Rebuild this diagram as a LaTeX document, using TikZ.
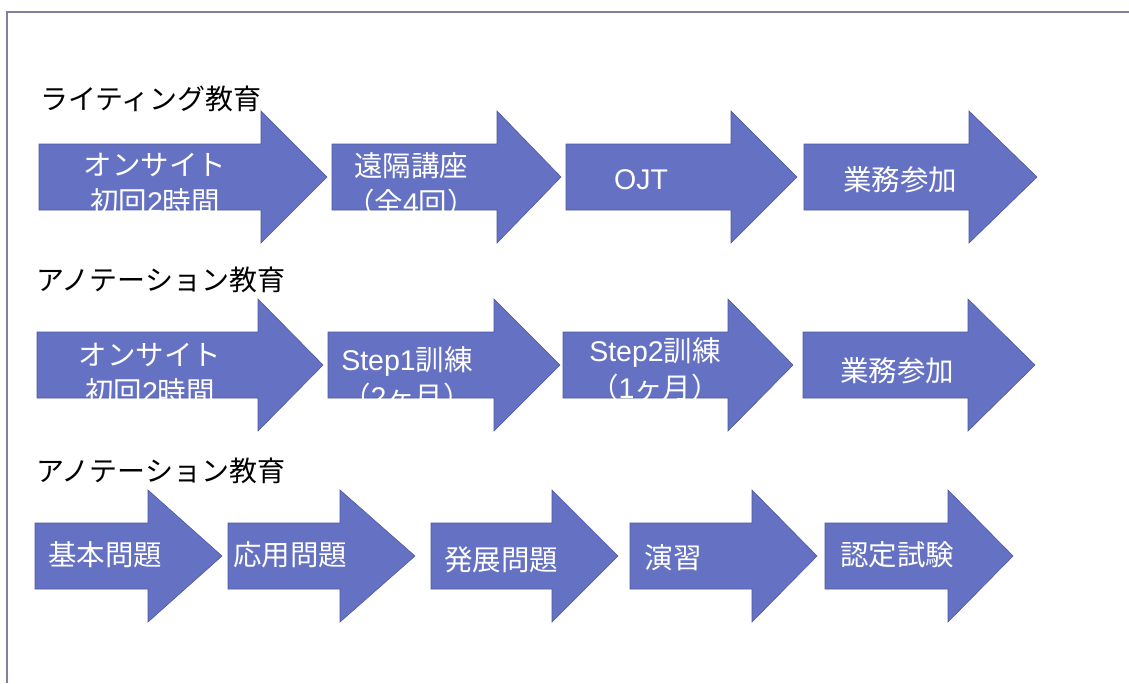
\documentclass[tikz,border=0pt]{standalone}
\usepackage{fontspec}
\setmainfont{Noto Sans CJK JP}
\newfontfamily\lat{Liberation Sans}
\definecolor{bleuFleche}{RGB}{101,113,194}
\definecolor{bordFleche}{RGB}{78,88,160}
\definecolor{grisCadre}{RGB}{128,128,160}
\tikzset{
  fleche/.style={fill=bleuFleche, draw=bordFleche, line width=0.6pt},
  texteFleche/.style={text=white, font=\fontsize{28.5}{37}\selectfont, align=center, inner sep=0pt},
  titre/.style={anchor=west, font=\fontsize{28}{32}\selectfont, inner sep=0pt}
}
% fleche : gauche, base de la pointe, pointe, milieu
\newcommand{\flechebloc}[4]{%
  \filldraw[fleche] (#1,#4-33) -- (#2,#4-33) -- (#2,#4-66) -- (#3,#4) -- (#2,#4+66) -- (#2,#4+33) -- (#1,#4+33) -- cycle;}

\begin{document}
\begin{tikzpicture}[x=1pt,y=-1pt]
\useasboundingbox (0,0) rectangle (1129,683);
  % Cadre
\draw[grisCadre, line width=1.2pt] (7,683) -- (7,12) -- (1129,12);
  % Titres
\node[titre] (titreEcriture) at (40,99) {ライティング教育};
\node[titre] (titreAnnot) at (36,280) {アノテーション教育};
\node[titre] (titreAnnotBis) at (36,471) {アノテーション教育};
  % Rangee 1
\flechebloc{39}{261}{327}{177}
\flechebloc{332}{497}{561}{177}
\flechebloc{566}{731}{797}{177}
\flechebloc{804}{969}{1037}{177}
\node[texteFleche] (onsite) at (155,184) {オンサイト\\初回{\lat 2}時間};
\node[texteFleche] (enkaku) at (411,184) {遠隔講座\\（全{\lat 4}回）};
\node[texteFleche] (ojt) at (641,180) {\lat OJT};
\node[texteFleche] (gyomu) at (900,180) {業務参加};
  % Rangee 2
\flechebloc{37}{258}{323}{365}
\flechebloc{328}{494}{560}{365}
\flechebloc{563}{728}{793}{365}
\flechebloc{803}{968}{1035}{365}
\node[texteFleche] (onsiteBis) at (150,374) {オンサイト\\初回{\lat 2}時間};
\node[texteFleche] (stepUn) at (407,378) {{\lat Step1}訓練\\（{\lat 2}ヶ月）};
\node[texteFleche] (stepDeux) at (655,369) {{\lat Step2}訓練\\（{\lat 1}ヶ月）};
\node[texteFleche] (gyomuBis) at (897,371) {業務参加};
  % Rangee 3
\flechebloc{35}{148}{222}{556}
\flechebloc{228}{340}{415}{556}
\flechebloc{431}{552}{618}{556}
\flechebloc{630}{752}{817}{556}
\flechebloc{825}{948}{1013}{556}
\node[texteFleche] (kihon) at (105,555) {基本問題};
\node[texteFleche] (oyo) at (290,555) {応用問題};
\node[texteFleche] (hatten) at (501,560) {発展問題};
\node[texteFleche] (enshu) at (673,558) {演習};
\node[texteFleche] (nintei) at (897,555) {認定試験};
\end{tikzpicture}
\end{document}
